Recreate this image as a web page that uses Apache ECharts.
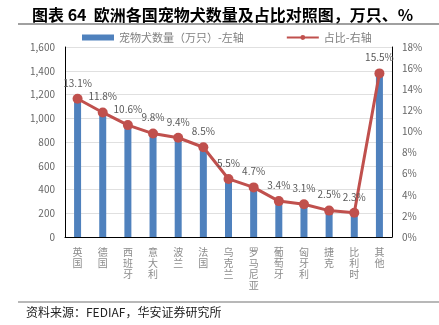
<!DOCTYPE html>
<html>
<head>
<meta charset="utf-8">
<script src="https://cdn.jsdelivr.net/npm/echarts@6/dist/echarts.min.js"></script>
<style>
  html, body { margin: 0; padding: 0; background: #fff; }
  #chart { width: 439px; height: 325px; }
</style>
</head>
<body>
<div id="chart"></div>
<script>
// Countries (x axis)
const categories = ['英国', '德国', '西班牙', '意大利', '波兰', '法国', '乌克兰', '罗马尼亚', '葡萄牙', '匈牙利', '捷克', '比利时', '其他'];
// Pet dog population, 10k
const dogCounts = [1160, 1045, 940, 865, 830, 750, 485, 415, 300, 275, 220, 205, 1370];
// Share of European total, %
const shares = [13.1, 11.8, 10.6, 9.8, 9.4, 8.5, 5.5, 4.7, 3.4, 3.1, 2.5, 2.3, 15.5];
// Axis ticks
const leftTicks = { min: 0, max: 1600, interval: 200 };
const rightTicks = { min: 0, max: 18, interval: 2 };

const chart = echarts.init(document.getElementById('chart'));
const font = '"Microsoft YaHei", "Noto Sans CJK SC", sans-serif';

chart.setOption({
  animation: false,
  textStyle: { fontFamily: font },
  title: {
    text: '图表 64  欧洲各国宠物犬数量及占比对照图，万只、%',
    left: 27, top: 2,
    textStyle: { fontSize: 16, fontWeight: 'bold', color: '#000', fontFamily: font }
  },
  graphic: [
    { type: 'line', shape: { x1: 18, y1: 24, x2: 439, y2: 24 }, style: { stroke: '#808080', lineWidth: 1.5 } },
    { type: 'line', shape: { x1: 18, y1: 302, x2: 439, y2: 302 }, style: { stroke: '#a0a0a0', lineWidth: 1.5 } },
    { type: 'text', left: 26, top: 306, style: { text: '资料来源：FEDIAF，华安证券研究所', fontSize: 12, fill: '#222', fontFamily: font } }
  ],
  legend: {
    top: 27,
    left: 77,
    itemGap: 42,
    itemWidth: 32,
    itemHeight: 6,
    textStyle: { color: '#808080', fontSize: 11 },
    data: [
      { name: '宠物犬数量（万只）-左轴', icon: 'rect' },
      { name: '占比-右轴' }
    ]
  },
  grid: { left: 65, right: 47, top: 47, bottom: 88, containLabel: false },
  xAxis: {
    type: 'category',
    data: categories,
    axisLine: { show: true, lineStyle: { color: '#000', width: 1 } },
    axisTick: { show: false },
    axisLabel: {
      color: '#8c8c8c', fontSize: 10, lineHeight: 11, margin: 10, interval: 0,
      formatter: v => v.split('').join('\n')
    }
  },
  yAxis: [
    {
      type: 'value', ...leftTicks,
      axisLine: { show: true, lineStyle: { color: '#000' } },
      axisTick: { show: false },
      splitLine: { lineStyle: { color: '#e0e0e0' } },
      axisLabel: { color: '#666', fontSize: 10, margin: 10, formatter: v => v.toLocaleString('en-US') }
    },
    {
      type: 'value', ...rightTicks,
      axisLine: { show: true, lineStyle: { color: '#000' } },
      axisTick: { show: false },
      splitLine: { show: false },
      axisLabel: { color: '#666', fontSize: 10, margin: 10, formatter: v => v + '%' }
    }
  ],
  series: [
    {
      name: '宠物犬数量（万只）-左轴',
      type: 'bar',
      data: dogCounts,
      barWidth: 7,
      itemStyle: { color: '#4f81bd' }
    },
    {
      name: '占比-右轴',
      type: 'line',
      yAxisIndex: 1,
      data: shares,
      symbol: 'circle',
      symbolSize: 10,
      lineStyle: { color: '#c0504d', width: 3 },
      itemStyle: { color: '#c0504d' },
      label: {
        show: true, position: 'top', distance: 6,
        color: '#595959', fontSize: 10,
        formatter: p => p.value.toFixed(1) + '%'
      }
    }
  ]
});
</script>
</body>
</html>
